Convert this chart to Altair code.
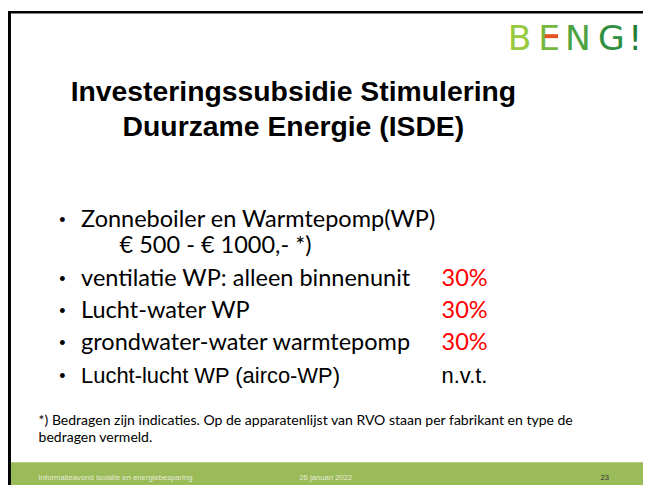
import altair as alt
import pandas as pd

# ---- slide content ----
title_lines = ["Investeringssubsidie Stimulering", "Duurzame Energie (ISDE)"]
bullet_items = [
    "Zonneboiler en Warmtepomp(WP)",
    "ventilatie WP: alleen binnenunit",
    "Lucht-water WP",
    "grondwater-water warmtepomp",
    "Lucht-lucht WP (airco-WP)",
]
bullet_sub = "€ 500 - € 1000,- *)"
bullet_rates = ["", "30%", "30%", "30%", "n.v.t."]
footnote_lines = [
    "*) Bedragen zijn indicaties. Op de apparatenlijst van RVO staan per fabrikant en type de",
    "bedragen vermeld.",
]
footer_texts = ["Informatieavond Isolatie en energiebesparing", "26 januari 2022", "23"]
logo_letters = ["B", "E", "N", "G", "!"]

# ---- layout (reference pixels; page margin is 8px) ----
W, H = 643, 480
OX, OY = 8, 8


def px(x):
    return x - OX


def py(y):
    return y - OY


CAL = "Lato"
ARI = "Liberation Sans"


def txt(s, x, y, size, font=CAL, color="#000000", align="left", weight="normal"):
    return alt.Chart(pd.DataFrame({"t": [s]})).mark_text(
        font=font, fontSize=size, color=color, align=align,
        baseline="alphabetic", fontWeight=weight,
    ).encode(text="t:N", x=alt.value(px(x)), y=alt.value(py(y)))


def box(x1, x2, y1, y2, color):
    return alt.Chart(pd.DataFrame({"a": [0]})).mark_rect(color=color).encode(
        x=alt.value(x1), x2=alt.value(x2), y=alt.value(y1), y2=alt.value(y2)
    )


layers = []
# frame
layers.append(box(0, 3, 0, H, "#000000"))
layers.append(box(0, W, 0, 2.5, "#000000"))
# footer bar
layers.append(box(3, W, py(465), H, "#9BBB59"))
layers.append(txt(footer_texts[0], 39, 483, 7.8, ARI, "#E4ECD6"))
layers.append(txt(footer_texts[1], 303, 483, 7.8, ARI, "#E4ECD6"))
layers.append(txt(footer_texts[2], 608, 483, 7.8, ARI, "#333333"))

# title
layers.append(txt(title_lines[0], 297, 99, 28.7, ARI, "#000000", "center", "bold"))
layers.append(txt(title_lines[1], 297, 135, 28.7, ARI, "#000000", "center", "bold"))

# logo
logo_x = [526, 556, 585, 619, 643]
logo_c = ["#97CA3D", "#74B83E", "#4DA342", "#2E9040", "#1F7F37"]
for ch, lx, lc in zip(logo_letters, logo_x, logo_c):
    layers.append(txt(ch, lx, 47, 35, "DejaVu Sans", lc, "center"))
layers.append(box(px(551.5), px(565), py(31.5), py(35.5), "#E2531E"))

# bullets
row_y = [226.5, 286, 318.5, 351, 384.5]
for i, (item, rate) in enumerate(zip(bullet_items, bullet_rates)):
    layers.append(txt("•", 60, row_y[i] - 1, 18, ARI))
    fnt = ARI if i == 4 else CAL
    sz = 22.2 if i == 4 else 23.8
    layers.append(txt(item, 82, row_y[i], sz, fnt))
    if rate:
        col = "#FF0000" if rate.endswith("%") else "#000000"
        layers.append(txt(rate, 447, row_y[i], sz, fnt, col))
layers.append(txt(bullet_sub, 121, 253.5, 23.8, CAL))

# footnote
layers.append(txt(footnote_lines[0], 39, 427, 14.2, CAL))
layers.append(txt(footnote_lines[1], 39, 444, 14.2, CAL))

chart = alt.layer(*layers).properties(
    width=W, height=H, padding=0, autosize="none", background="#FFFFFF"
).configure_view(strokeWidth=0)

chart.save("out.html", embed_options={"renderer": "svg", "actions": False})
